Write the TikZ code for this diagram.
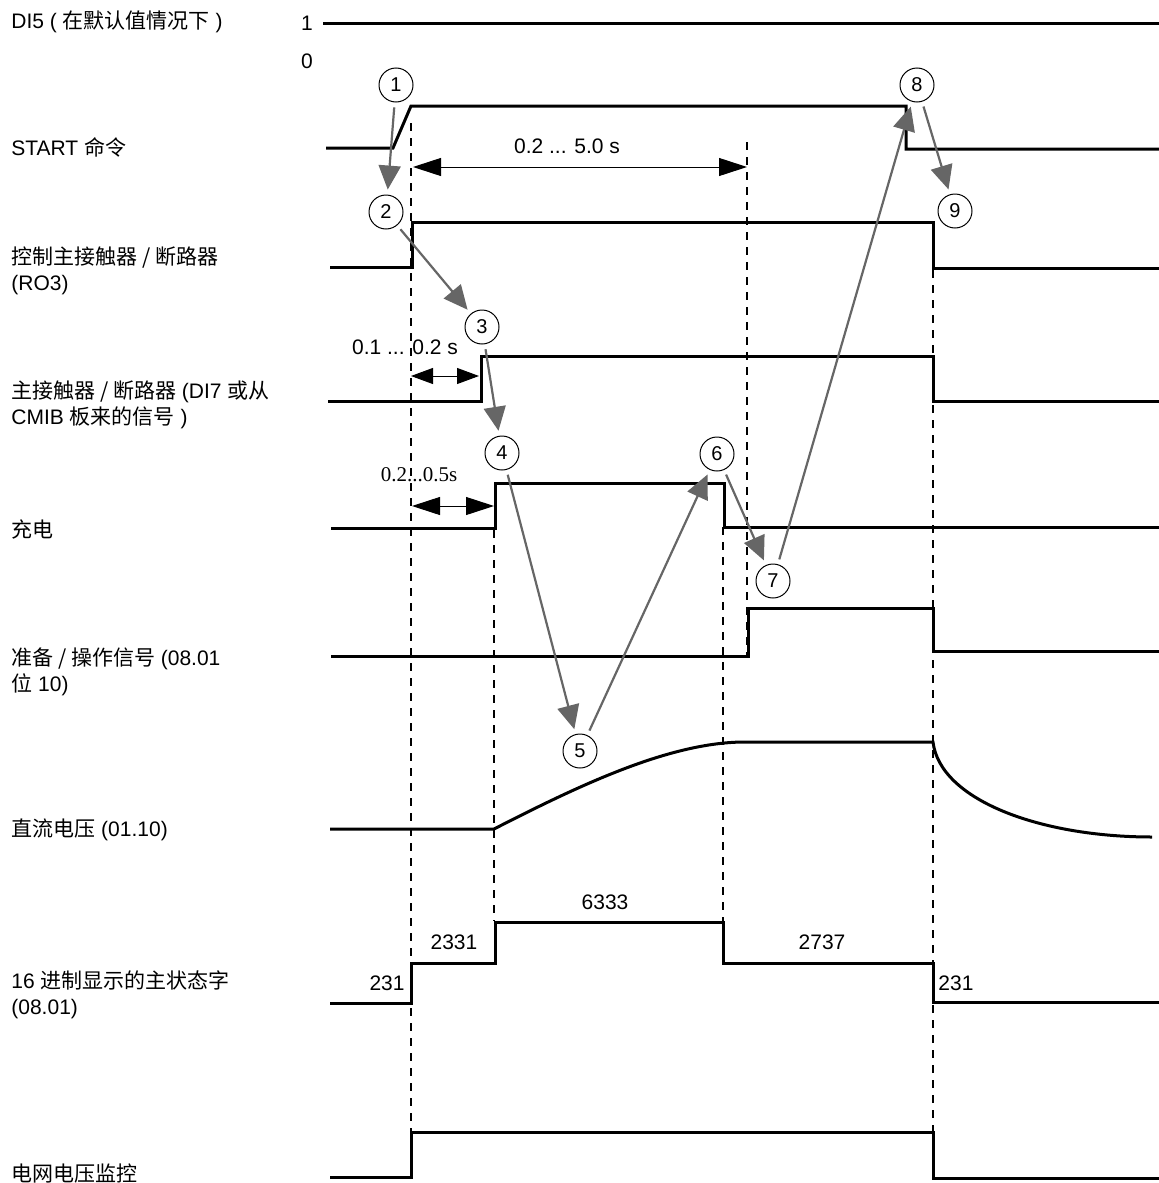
\documentclass[tikz,border=0pt]{standalone}
\usepackage{fontspec}
\setmainfont{Liberation Sans}
\newfontfamily\zh{Noto Sans CJK SC}
\newfontfamily\tnr{Liberation Serif}
\usetikzlibrary{arrows.meta}
\definecolor{stepgray}{RGB}{102,102,102}
\newcommand{\lblfont}{\fontsize{10.5}{13}\selectfont}
\tikzset{
  sig/.style={line width=1.5pt, line join=miter},
  guide/.style={line width=0.9pt, dash pattern=on 4pt off 3.5pt},
  dimarrow/.style={{Triangle[length=14pt,width=9pt]}-{Triangle[length=14pt,width=9pt]},
                   line width=0.5pt},
  smalldim/.style={{Triangle[length=11pt,width=8pt]}-{Triangle[length=11pt,width=8pt]},
                   line width=0.5pt},
  steparrow/.style={-{Triangle[length=12pt,width=11pt]}, draw=stepgray, fill=stepgray,
                    line width=1.1pt, shorten <=2.5pt, shorten >=2.5pt},
  stepnum/.style={draw, circle, inner sep=0pt, minimum size=17pt, line width=0.5pt,
                  font=\fontsize{10}{12}\selectfont},
  siglabel/.style={anchor=west, align=left, inner sep=0pt, font=\lblfont},
  lvl/.style={inner sep=0pt, font=\lblfont},
}

\begin{document}
\begin{tikzpicture}[x=0.5pt, y=-0.5pt]
\useasboundingbox (0,0) rectangle (1159,1183);

% ================= signal names =================
\node[siglabel] (lDI5) at (11,22) {DI5 ( {\zh 在默认值情况下} )};
\node[siglabel] (lStart) at (11,147) {START {\zh 命令}};
\node[siglabel] (lRO3) at (11,271) {{\zh 控制主接触器 / 断路器}\\(RO3)};
\node[siglabel] (lDI7) at (11,405) {{\zh 主接触器 / 断路器} (DI7 {\zh 或从}\\CMIB {\zh 板来的信号} )};
\node[siglabel] (lChg) at (11,529) {{\zh 充电}};
\node[siglabel] (lRdy) at (11,672) {{\zh 准备 / 操作信号} (08.01\\{\zh 位} 10)};
\node[siglabel] (lUdc) at (11,830) {{\zh 直流电压} (01.10)};
\node[siglabel] (lMsw) at (11,995) {16 {\zh 进制显示的主状态字}\\(08.01)};
\node[siglabel] (lGrid) at (11,1173) {{\zh 电网电压监控}};

\node[lvl] (v1) at (307,23) {1};
\node[lvl] (v0) at (307,61) {0};

% ================= waveforms =================
\draw[sig] (323,23) -- (1159,23);
\draw[sig] (326,148) -- (393,148) -- (411,106) -- (906,106) -- (906,149) -- (1159,149);
\draw[sig] (330,267) -- (412,267) -- (412,222) -- (933,222) -- (933,268) -- (1159,268);
\draw[sig] (328,401) -- (481,401) -- (481,356) -- (933,356) -- (933,401) -- (1159,401);
\draw[sig] (331,528) -- (495,528) -- (495,483) -- (724,483) -- (724,527) -- (1159,527);
\draw[sig] (331,656) -- (748,656) -- (748,608) -- (933,608) -- (933,651) -- (1159,651);
\draw[sig] (330,829) -- (494,829) .. controls (580,785) and (670,742) .. (745,742)
  -- (933,742) .. controls (940,800) and (1040,837) .. (1152,837);
\draw[sig] (330,1003) -- (411,1003) -- (411,963) -- (495,963) -- (495,922) -- (723,922)
  -- (723,963) -- (933,963) -- (933,1002) -- (1159,1002);
\draw[sig] (330,1177) -- (411,1177) -- (411,1132) -- (933,1132) -- (933,1178) -- (1159,1178);

% state word values
\node[lvl, anchor=east] (w0) at (405,983) {231};
\node[lvl] (w1) at (454,942) {2331};
\node[lvl] (w2) at (605,902) {6333};
\node[lvl] (w3) at (822,942) {2737};
\node[lvl, anchor=west] (w4) at (938,983) {231};

% ================= time marks =================
\foreach \x/\ya/\yb in {411/123/1132, 494/530/921, 723/527/921, 747/142/656, 933/270/1132}
  \draw[guide] (\x,\ya) -- (\x,\yb);

\coordinate (d1a) at (413,167);
\coordinate (d1b) at (747,167);
\draw[dimarrow] (d1a) -- (d1b);
\node[lvl] (d1) at (567,146) {0.2 ... 5.0 s};

\coordinate (d2a) at (411,376);
\coordinate (d2b) at (479,376);
\draw[smalldim] (d2a) -- (d2b);
\node[lvl] (d2) at (405,347) {0.1 ... 0.2 s};

\coordinate (d3a) at (412,506);
\coordinate (d3b) at (494,506);
\draw[dimarrow] (d3a) -- (d3b);
\node[lvl, font=\tnr\lblfont] (d3) at (419,475) {0.2...0.5s};

% ================= sequence =================
\foreach \n/\x/\y in {1/396/85, 2/386/212, 3/482/327, 4/502/453, 5/580/751,
                      6/717/454, 7/773/581, 8/917/85, 9/955/211}
  \node[stepnum] (c\n) at (\x,\y) {\n};

\foreach \a/\b in {1/2, 2/3, 3/4, 4/5, 5/6, 6/7, 7/8, 8/9}
  \draw[steparrow] (c\a) -- (c\b);
\end{tikzpicture}
\end{document}
